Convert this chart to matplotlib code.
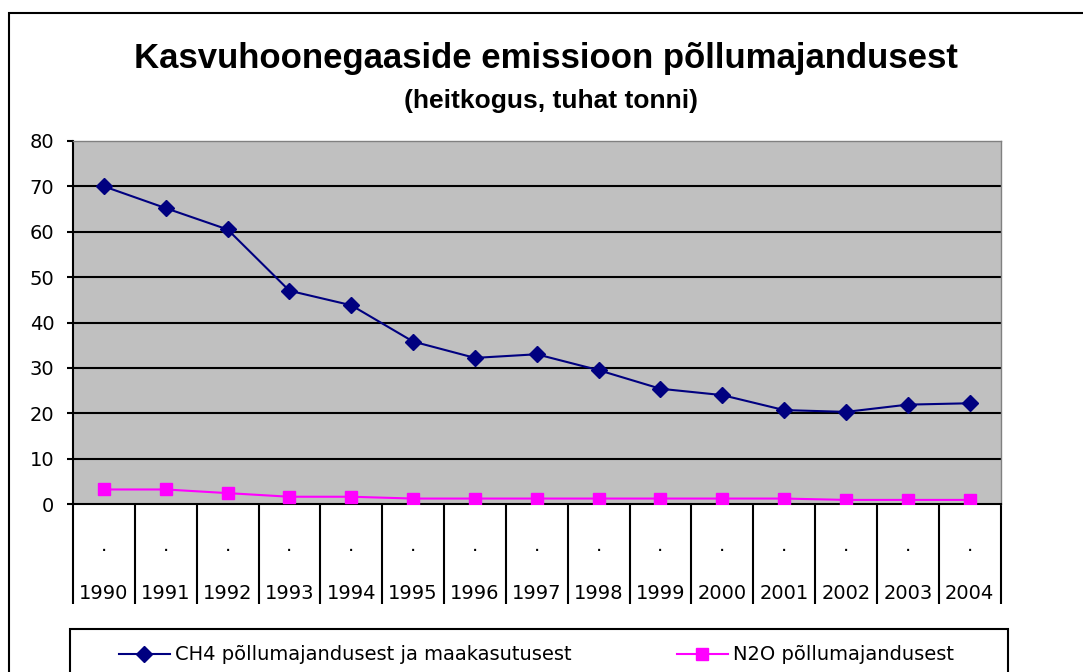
import matplotlib
matplotlib.use("Agg")
import matplotlib.pyplot as plt
from matplotlib.patches import Rectangle
from matplotlib.lines import Line2D
import numpy as np

# data (thousand tonnes)
years = ["1990", "1991", "1992", "1993", "1994", "1995", "1996", "1997",
         "1998", "1999", "2000", "2001", "2002", "2003", "2004"]
ch4 = [70.0, 65.2, 60.5, 47.0, 43.8, 35.8, 32.2, 33.0, 29.5, 25.4,
       24.0, 20.7, 20.3, 21.9, 22.2]
n2o = [3.2, 3.2, 2.4, 1.6, 1.6, 1.2, 1.2, 1.2, 1.2, 1.2, 1.2, 1.2, 0.9, 0.9, 0.9]
y_ticks = [0, 10, 20, 30, 40, 50, 60, 70, 80]

ch4_label = "CH4 põllumajandusest ja maakasutusest"
n2o_label = "N2O põllumajandusest"
title = "Kasvuhoonegaaside emissioon põllumajandusest"
subtitle = "(heitkogus, tuhat tonni)"

W, H = 1083, 672
plt.rcParams['font.family'] = ['DejaVu Sans']

fig = plt.figure(figsize=(W / 100, H / 100), dpi=100)

def fx(px):
    return px / W

def fy(py):
    return 1 - py / H

# outer chart border (runs off the right and bottom of the picture)
fig.patches.append(Rectangle((fx(8.5), fy(700)), fx(1100), fy(12.5) - fy(700),
                             transform=fig.transFigure, fill=False,
                             edgecolor="black", linewidth=1.5, clip_on=False))

left, right, top, bottom = 73, 1000.5, 141, 504
ax = fig.add_axes([fx(left), fy(bottom), fx(right - left), fy(top) - fy(bottom)])
ax.set_facecolor("#C0C0C0")

x = np.arange(len(years))
ax.set_xlim(-0.5, len(years) - 0.5)
ax.set_ylim(0, 80)

for v in y_ticks[1:-1]:
    ax.axhline(v, color="black", linewidth=1.5, zorder=1)

ax.plot(x, ch4, color="#000080", linewidth=1.5, marker="D", markersize=8.5,
        zorder=3, label=ch4_label)
ax.plot(x, n2o, color="#FF00FF", linewidth=1.5, marker="s", markersize=8,
        zorder=3, label=n2o_label)

for side in ["top", "right"]:
    ax.spines[side].set_color("#808080")
    ax.spines[side].set_linewidth(1)
ax.spines["left"].set_linewidth(1.5)
ax.spines["bottom"].set_linewidth(1.5)

ax.set_yticks(y_ticks)
ax.set_yticklabels([str(v) for v in y_ticks], fontsize=14)
ax.tick_params(axis="y", length=4.5, width=1.5, pad=9)

# category boundaries drawn as long tick marks, labels centred between them
ax.set_xticks(np.arange(len(years) + 1) - 0.5)
ax.set_xticklabels([])
ax.tick_params(axis="x", which="major", length=72, width=1.5)
ax.set_xticks(x, minor=True)
ax.set_xticklabels([".\n\n" + y for y in years], minor=True, fontsize=14,
                   linespacing=1.32)
ax.tick_params(axis="x", which="minor", length=0, pad=23)

fig.text(fx(546), fy(68), title, ha="center", va="baseline",
         fontsize=25, fontweight="bold", family="Liberation Sans")
fig.text(fx(551), fy(108), subtitle, ha="center", va="baseline",
         fontsize=19, fontweight="bold", family="Liberation Sans")

# legend box, cut off by the bottom of the picture like the reference
fig.patches.append(Rectangle((fx(70), fy(700)), fx(1008 - 70), fy(629) - fy(700),
                             transform=fig.transFigure, fill=False,
                             edgecolor="black", linewidth=1.5, clip_on=False))
handles = [Line2D([], [], color="#000080", marker="D", markersize=8.5, linewidth=1.5),
           Line2D([], [], color="#FF00FF", marker="s", markersize=8, linewidth=1.5)]
fig.legend(handles, [ch4_label, n2o_label], ncol=2, loc="center left",
           bbox_to_anchor=(fx(119), fy(655)), bbox_transform=fig.transFigure,
           fontsize=14, frameon=False, handlelength=2.6, borderpad=0,
           borderaxespad=0, handletextpad=0.3, columnspacing=5.4)

fig.savefig("out.png", dpi=100)
